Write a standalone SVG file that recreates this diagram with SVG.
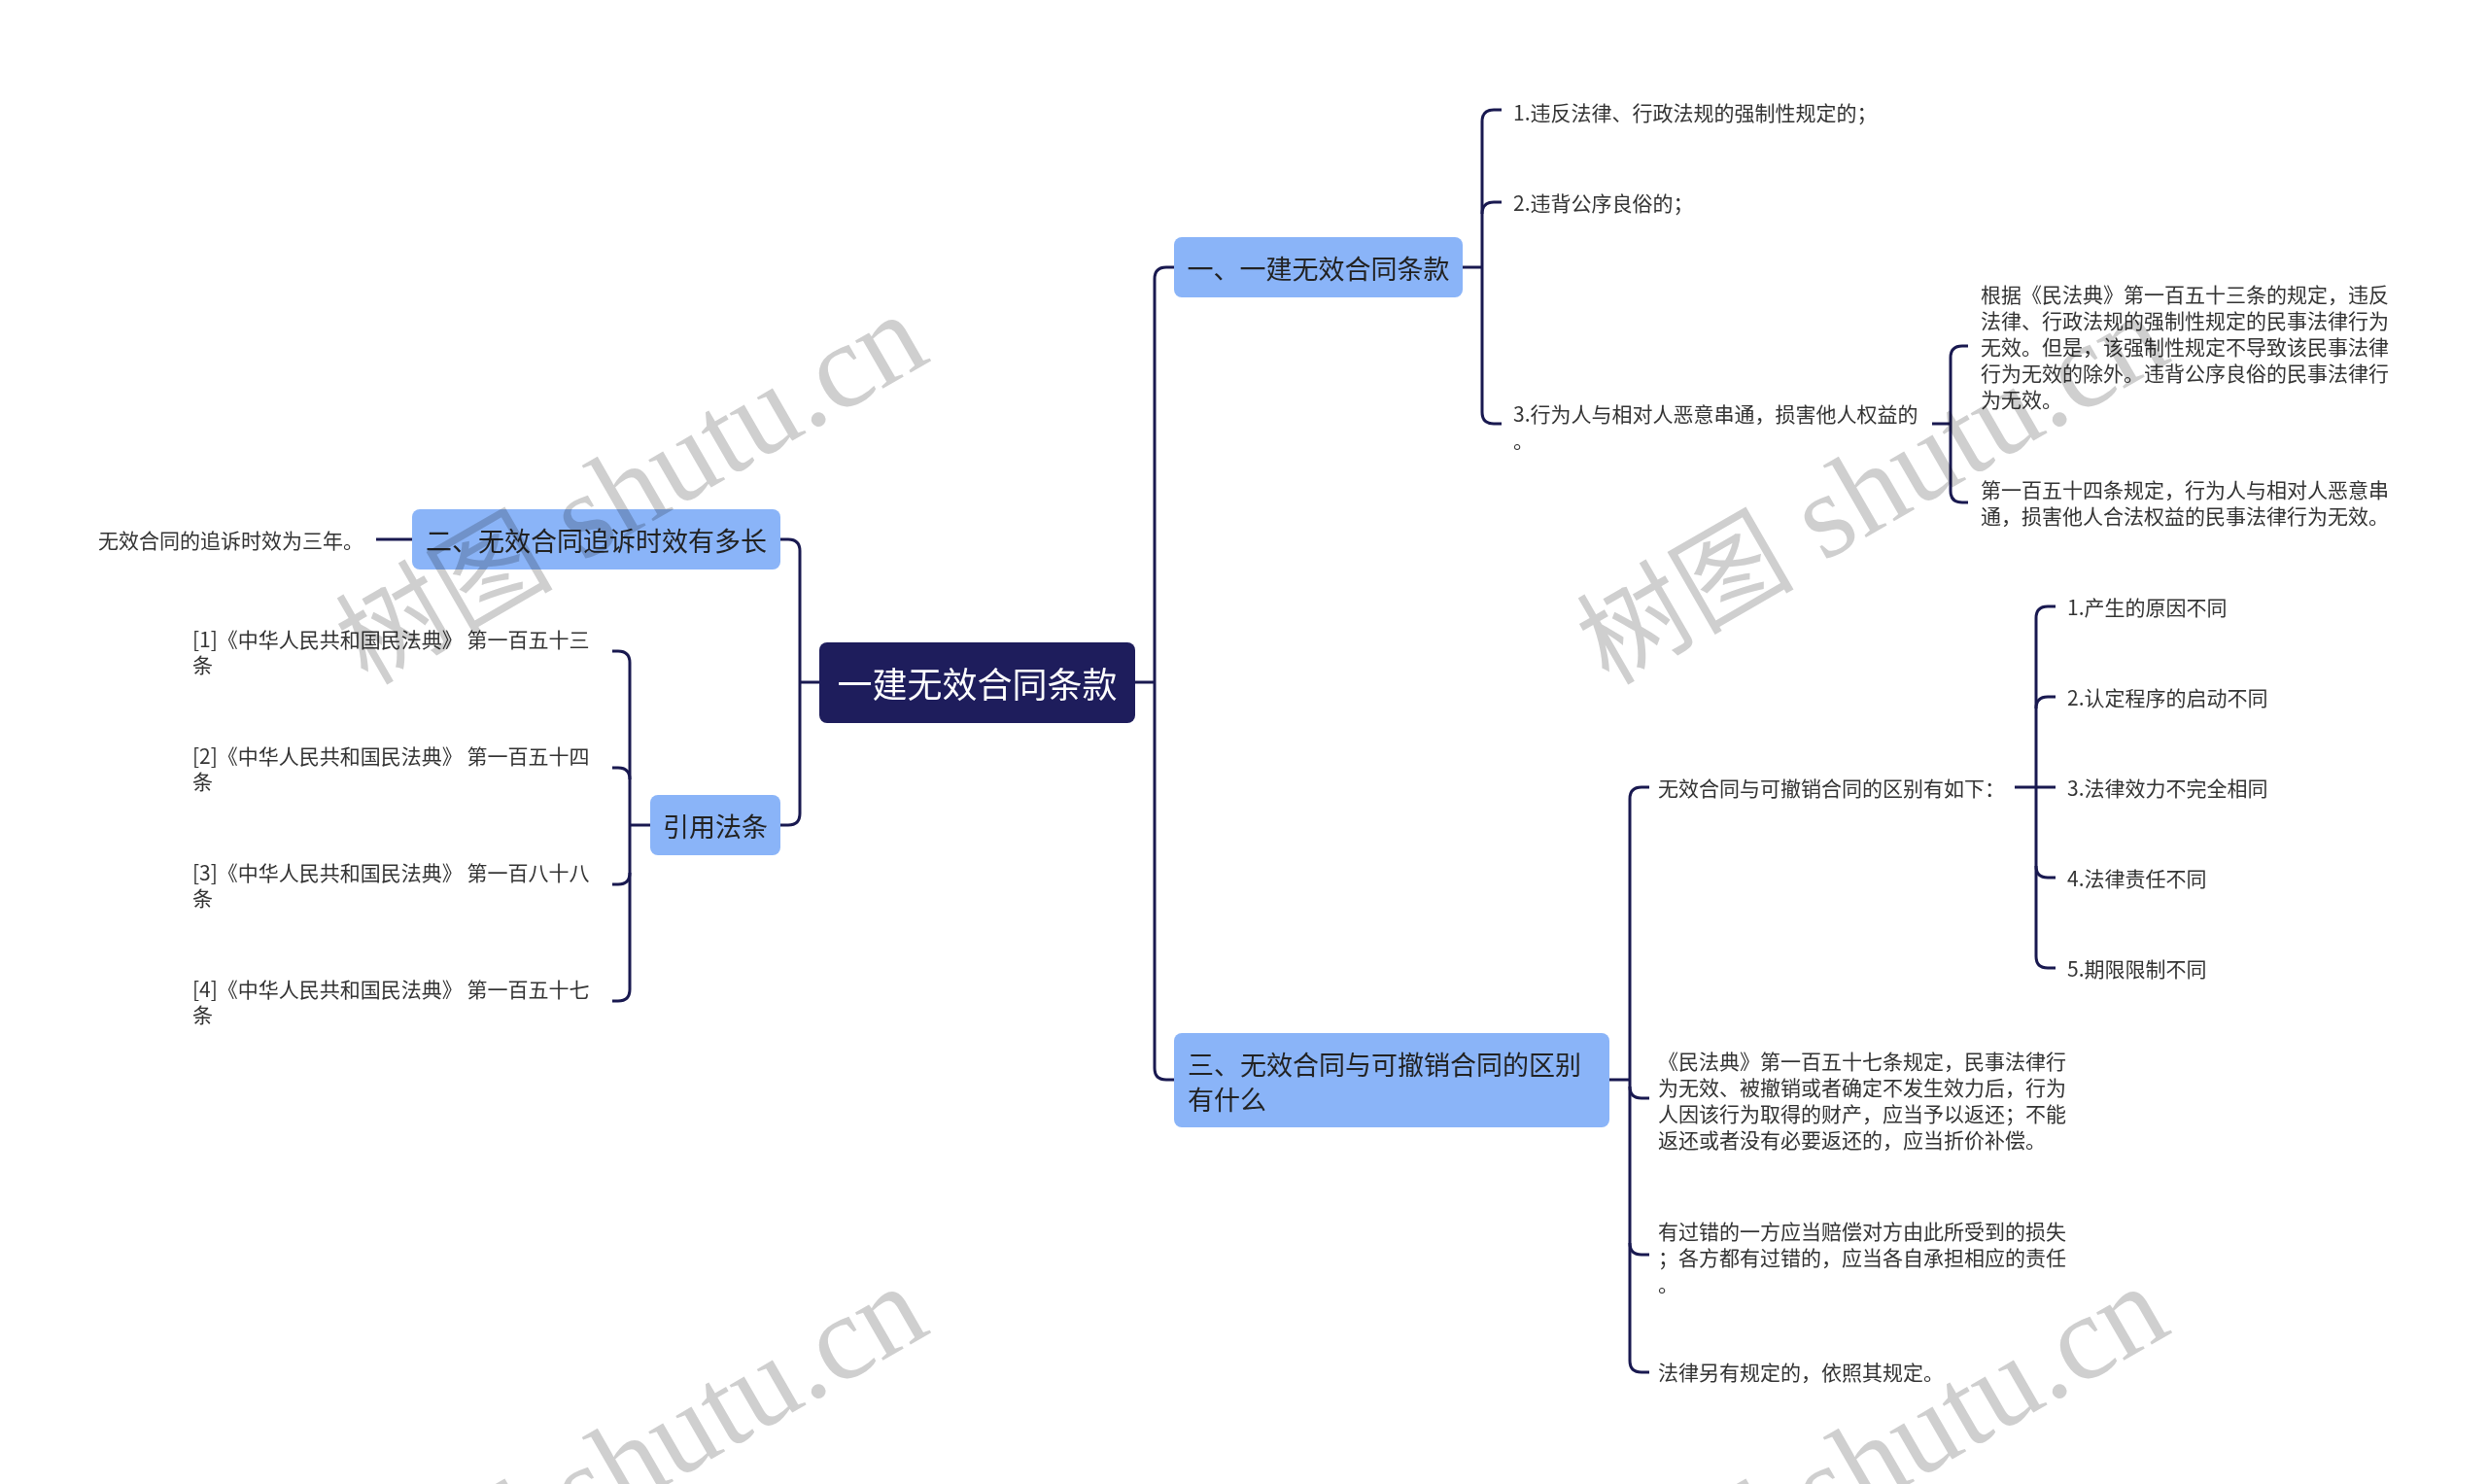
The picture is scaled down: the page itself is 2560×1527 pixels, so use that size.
<svg xmlns="http://www.w3.org/2000/svg" width="2560" height="1527" viewBox="0 0 2560 1527">
<style>
.bg{fill:#ffffff}
.conn{fill:none;stroke:#191950;stroke-width:3}
.t{font-family:"Noto Sans CJK SC","Microsoft YaHei",sans-serif;dominant-baseline:central}
.leaf{font-size:21px;fill:#333333}
.topic{font-size:27px;fill:#222222}
.rootT{font-size:36px;fill:#ffffff}
.rootBox{fill:#1e1d5c}
.subBox{fill:#8ab4f8}
.wm{font-family:"Liberation Serif","Noto Sans CJK SC",serif;font-size:112px;fill:#cfcfcf;mix-blend-mode:multiply}
.wmL{font-size:124px}
</style>
<rect class="bg" x="0" y="0" width="2560" height="1527"/>

<g id="connectors">
<path class="conn" d="M1168,702 H1188"/>
<path class="conn" d="M1208,275 H1200 Q1188,275 1188,287 V1099 Q1188,1111 1200,1111 H1208"/>
<path class="conn" d="M843,702 H823"/>
<path class="conn" d="M803,555 H811 Q823,555 823,567 V837 Q823,849 811,849 H803"/>
<path class="conn" d="M424,555 H387"/>
<path class="conn" d="M669,849 H648"/>
<path class="conn" d="M630,670 H636 Q648,670 648,682 V1018 Q648,1030 636,1030 H630"/>
<path class="conn" d="M648,802 Q648,790 636,790 H630"/>
<path class="conn" d="M648,898 Q648,910 636,910 H630"/>
<path class="conn" d="M1505,275 H1525"/>
<path class="conn" d="M1545,113 H1537 Q1525,113 1525,125 V424 Q1525,436 1537,436 H1545"/>
<path class="conn" d="M1525,220 Q1525,208 1537,208 H1545"/>
<path class="conn" d="M1988,436 H2007"/>
<path class="conn" d="M2025,356 H2019 Q2007,356 2007,368 V505 Q2007,517 2019,517 H2025"/>
<path class="conn" d="M1656,1111 H1677"/>
<path class="conn" d="M1697,810 H1689 Q1677,810 1677,822 V1400 Q1677,1412 1689,1412 H1697"/>
<path class="conn" d="M1677,1118 Q1677,1130 1689,1130 H1697"/>
<path class="conn" d="M1677,1279 Q1677,1291 1689,1291 H1697"/>
<path class="conn" d="M2073,810 H2115"/>
<path class="conn" d="M2115,624 H2107 Q2095,624 2095,636 V984 Q2095,996 2107,996 H2115"/>
<path class="conn" d="M2095,729 Q2095,717 2107,717 H2115"/>
<path class="conn" d="M2095,891 Q2095,903 2107,903 H2115"/>
</g>

<g id="root">
<rect class="rootBox" x="843" y="661" width="325" height="83" rx="8"/>
<text class="t rootT" x="1005.5" y="702" text-anchor="middle">一建无效合同条款</text>
</g>

<g id="n1">
<rect class="subBox" x="1208" y="244" width="297" height="62" rx="8"/>
<text class="t topic" x="1356.5" y="275" text-anchor="middle">一、一建无效合同条款</text>
</g>
<g id="n1-1"><text class="t leaf" x="1557" y="115">1.违反法律、行政法规的强制性规定的；</text></g>
<g id="n1-2"><text class="t leaf" x="1557" y="208">2.违背公序良俗的；</text></g>
<g id="n1-3"><text class="t leaf"><tspan x="1557" y="425">3.行为人与相对人恶意串通，损害他人权益的</tspan><tspan x="1557" y="452">。</tspan></text></g>
<g id="n1-3-1"><text class="t leaf"><tspan x="2038" y="302">根据《民法典》第一百五十三条的规定，违反</tspan><tspan x="2038" y="329">法律、行政法规的强制性规定的民事法律行为</tspan><tspan x="2038" y="356">无效。但是，该强制性规定不导致该民事法律</tspan><tspan x="2038" y="383">行为无效的除外。违背公序良俗的民事法律行</tspan><tspan x="2038" y="410">为无效。</tspan></text></g>
<g id="n1-3-2"><text class="t leaf"><tspan x="2038" y="503">第一百五十四条规定，行为人与相对人恶意串</tspan><tspan x="2038" y="530">通，损害他人合法权益的民事法律行为无效。</tspan></text></g>

<g id="n2">
<rect class="subBox" x="424" y="524" width="379" height="62" rx="8"/>
<text class="t topic" x="613.5" y="555" text-anchor="middle">二、无效合同追诉时效有多长</text>
</g>
<g id="n2-1"><text class="t leaf" x="374" y="555" text-anchor="end">无效合同的追诉时效为三年。</text></g>

<g id="n4">
<rect class="subBox" x="669" y="818" width="134" height="62" rx="8"/>
<text class="t topic" x="736" y="849" text-anchor="middle">引用法条</text>
</g>
<g id="n4-1"><text class="t leaf"><tspan x="198" y="657">[1]《中华人民共和国民法典》 第一百五十三</tspan><tspan x="198" y="683">条</tspan></text></g>
<g id="n4-2"><text class="t leaf"><tspan x="198" y="777">[2]《中华人民共和国民法典》 第一百五十四</tspan><tspan x="198" y="803">条</tspan></text></g>
<g id="n4-3"><text class="t leaf"><tspan x="198" y="897">[3]《中华人民共和国民法典》 第一百八十八</tspan><tspan x="198" y="923">条</tspan></text></g>
<g id="n4-4"><text class="t leaf"><tspan x="198" y="1017">[4]《中华人民共和国民法典》 第一百五十七</tspan><tspan x="198" y="1043">条</tspan></text></g>

<g id="n3">
<rect class="subBox" x="1208" y="1063" width="448" height="97" rx="8"/>
<text class="t topic"><tspan x="1222" y="1094">三、无效合同与可撤销合同的区别</tspan><tspan x="1222" y="1130">有什么</tspan></text>
</g>
<g id="n3-1"><text class="t leaf" x="1706" y="810">无效合同与可撤销合同的区别有如下：</text></g>
<g id="n3-1-1"><text class="t leaf" x="2127" y="624">1.产生的原因不同</text></g>
<g id="n3-1-2"><text class="t leaf" x="2127" y="717">2.认定程序的启动不同</text></g>
<g id="n3-1-3"><text class="t leaf" x="2127" y="810">3.法律效力不完全相同</text></g>
<g id="n3-1-4"><text class="t leaf" x="2127" y="903">4.法律责任不同</text></g>
<g id="n3-1-5"><text class="t leaf" x="2127" y="996">5.期限限制不同</text></g>
<g id="n3-2"><text class="t leaf"><tspan x="1706" y="1091">《民法典》第一百五十七条规定，民事法律行</tspan><tspan x="1706" y="1118">为无效、被撤销或者确定不发生效力后，行为</tspan><tspan x="1706" y="1145">人因该行为取得的财产，应当予以返还；不能</tspan><tspan x="1706" y="1172">返还或者没有必要返还的，应当折价补偿。</tspan></text></g>
<g id="n3-3"><text class="t leaf"><tspan x="1706" y="1266">有过错的一方应当赔偿对方由此所受到的损失</tspan><tspan x="1706" y="1293">；各方都有过错的，应当各自承担相应的责任</tspan><tspan x="1706" y="1320">。</tspan></text></g>
<g id="n3-4"><text class="t leaf" x="1706" y="1411">法律另有规定的，依照其规定。</text></g>

<g id="watermark">
<text class="wm" transform="translate(378,706) rotate(-30)">树图<tspan class="wmL"> shutu.cn</tspan></text>
<text class="wm" transform="translate(1655,706) rotate(-30)">树图<tspan class="wmL"> shutu.cn</tspan></text>
<text class="wm" transform="translate(378,1706) rotate(-30)">树图<tspan class="wmL"> shutu.cn</tspan></text>
<text class="wm" transform="translate(1655,1706) rotate(-30)">树图<tspan class="wmL"> shutu.cn</tspan></text>
</g>
</svg>
